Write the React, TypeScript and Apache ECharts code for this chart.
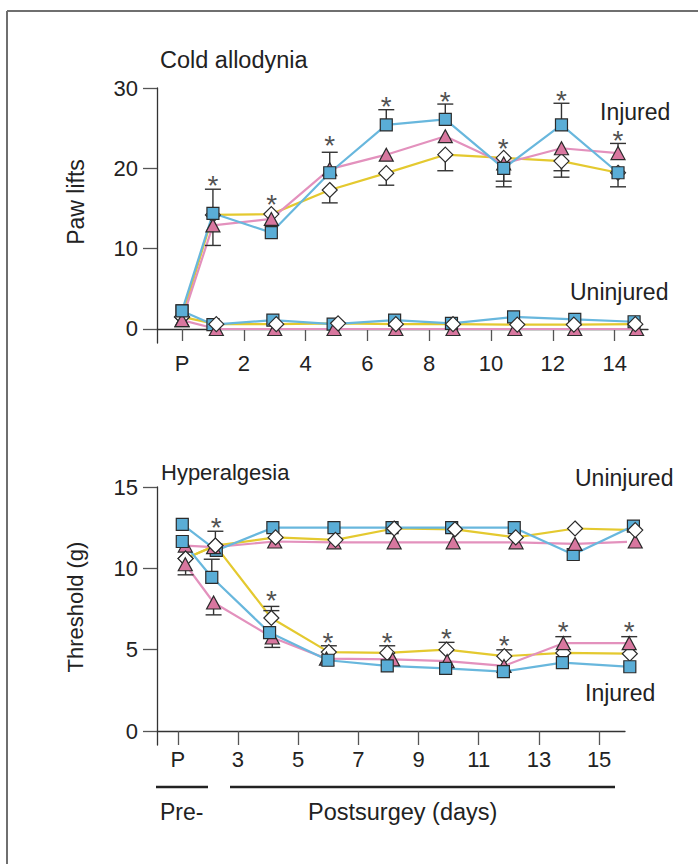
import React, { useEffect, useRef } from "react";
import * as echarts from "echarts";

// ---------- Cold allodynia (paw lifts); P = presurgery baseline at day 0 ----------
const coldTickDays = [0, 2, 4, 6, 8, 10, 12, 14];
const coldTickValues = [0, 10, 20, 30];

const coldInjuredDays = [0, 1.0, 2.89, 4.78, 6.61, 8.52, 10.41, 12.28, 14.11];
const coldInjuredSquare = [2.25, 14.4, 12.0, 19.45, 25.4, 26.1, 20.0, 25.4, 19.45];
const coldInjuredTriangle = [1.1, 12.9, 13.7, 19.9, 21.7, 24.0, 20.6, 22.5, 21.9];
const coldInjuredDiamond = [1.5, 14.2, 14.3, 17.3, 19.4, 21.7, 21.3, 20.9, 19.45];

const coldUninjuredSquareDays = [0, 1.0, 2.94, 4.89, 6.88, 8.72, 10.73, 12.71, 14.63];
const coldUninjuredSquare = [2.25, 0.55, 1.1, 0.6, 1.1, 0.7, 1.5, 1.2, 0.9];
const coldUninjuredTriangleDays = [0, 1.11, 3.0, 4.92, 6.92, 8.77, 10.77, 12.71, 14.71];
const coldUninjuredTriangle = [1.1, 0, 0, 0, 0, 0, 0, 0, 0];
const coldUninjuredDiamondDays = [0, 1.11, 3.05, 5.05, 6.92, 8.77, 10.85, 12.68, 14.67];
const coldUninjuredDiamond = [1.5, 0.6, 0.6, 0.7, 0.6, 0.6, 0.55, 0.55, 0.6];

// SEM whiskers: [day, from, to]; a cap is drawn at "to"
const coldErrors = [
  [1.0, 14.4, 17.4], [1.0, 12.9, 10.4],
  [4.78, 19.9, 22.0], [4.78, 17.3, 15.7],
  [6.61, 25.4, 27.3], [6.61, 19.4, 17.9],
  [8.52, 26.1, 28.0], [8.52, 21.7, 19.7],
  [10.41, 20.0, 18.4], [10.41, 20.0, 17.7],
  [12.28, 25.4, 28.1], [12.28, 20.9, 19.7], [12.28, 20.9, 18.9],
  [14.11, 21.9, 23.1], [14.11, 19.45, 17.7],
];
const coldStarDays = [1.0, 2.9, 4.78, 6.61, 8.52, 10.39, 12.28, 14.11];
const coldStars = [18.4, 16.05, 23.4, 28.2, 28.85, 23.0, 28.9, 24.0];

// ---------- Hyperalgesia (threshold, g); P = presurgery baseline at day 1 ----------
const hyperTickDays = [1, 3, 5, 7, 9, 11, 13, 15];
const hyperTickValues = [0, 5, 10, 15];

const hyperUninjuredSquareDays = [1.15, 2.28, 4.16, 6.19, 8.12, 10.1, 12.18, 14.14, 16.14];
const hyperUninjuredSquare = [12.7, 11.1, 12.5, 12.5, 12.5, 12.5, 12.5, 10.85, 12.6];
const hyperUninjuredTriangleDays = [1.25, 2.19, 4.22, 6.19, 8.19, 10.15, 12.24, 14.2, 16.2];
const hyperUninjuredTriangle = [11.4, 11.3, 11.65, 11.6, 11.6, 11.6, 11.6, 11.5, 11.65];
const hyperUninjuredDiamondDays = [1.26, 2.25, 4.25, 6.24, 8.19, 10.21, 12.23, 14.2, 16.2];
const hyperUninjuredDiamond = [10.6, 11.4, 11.9, 11.75, 12.45, 12.4, 11.9, 12.45, 12.35];

const hyperInjuredSquareDays = [1.15, 2.13, 4.05, 5.99, 7.96, 9.9, 11.82, 13.78, 16.02];
const hyperInjuredSquare = [11.65, 9.45, 6.05, 4.35, 4.0, 3.85, 3.65, 4.2, 3.95];
const hyperInjuredTriangleDays = [1.25, 2.19, 4.14, 5.94, 8.14, 9.95, 11.84, 13.81, 16.0];
const hyperInjuredTriangle = [10.25, 7.9, 5.75, 4.45, 4.4, 4.3, 4.0, 5.4, 5.4];
const hyperInjuredDiamondDays = [1.26, 2.25, 4.11, 6.02, 7.96, 9.93, 11.85, 13.81, 16.02];
const hyperInjuredDiamond = [10.6, 11.4, 6.95, 4.85, 4.8, 5.0, 4.6, 4.8, 4.75];

const hyperErrors = [
  [1.26, 10.6, 9.6],
  [2.25, 11.4, 12.28],
  [2.13, 9.45, 10.56],
  [2.19, 7.9, 7.14],
  [4.11, 6.95, 7.66], [4.11, 6.95, 7.4],
  [4.14, 5.75, 5.14],
  [6.02, 4.85, 5.24],
  [7.96, 4.8, 5.24],
  [9.93, 5.0, 5.45],
  [11.85, 4.6, 4.99],
  [13.81, 5.4, 5.8],
  [16.0, 5.4, 5.8],
];
const hyperStarDays = [2.28, 4.11, 5.99, 7.96, 9.93, 11.85, 13.81, 16.0];
const hyperStars = [12.75, 8.24, 5.7, 5.7, 5.96, 5.51, 6.34, 6.34];

// ---------- styling ----------
const FONT = '"Liberation Sans", Arial, Helvetica, sans-serif';
const INK = "#222222";
const BLUE_LINE = "#68b7dd";
const PINK_LINE = "#e391bd";
const YELLOW_LINE = "#e4c92f";
const BLUE_FILL = "#5aadd6";
const PINK_FILL = "#d8779f";
const EDGE = "#2b2b2b";

const pairs = (xs: number[], ys: number[]) => xs.map((x, i) => [x, ys[i]]);

function lineSeries(axis: number, xs: number[], ys: number[], color: string) {
  return {
    type: "line",
    xAxisIndex: axis,
    yAxisIndex: axis,
    data: pairs(xs, ys),
    symbol: "none",
    clip: false,
    z: 2,
    lineStyle: { color, width: 2.2 },
    silent: true,
  };
}

function markerSeries(
  axis: number,
  xs: number[],
  ys: number[],
  symbol: string,
  size: number | number[],
  fill: string,
  z: number
) {
  return {
    type: "scatter",
    xAxisIndex: axis,
    yAxisIndex: axis,
    data: pairs(xs, ys),
    symbol,
    symbolSize: size,
    clip: false,
    z,
    itemStyle: { color: fill, borderColor: EDGE, borderWidth: 1.2, opacity: 1 },
    silent: true,
  };
}

function whiskerSeries(axis: number, data: number[][]) {
  return {
    type: "custom",
    xAxisIndex: axis,
    yAxisIndex: axis,
    data,
    encode: { x: 0, y: [1, 2] },
    clip: false,
    z: 3,
    silent: true,
    renderItem: (_params: any, api: any) => {
      const x = api.value(0);
      const p0 = api.coord([x, api.value(1)]);
      const p1 = api.coord([x, api.value(2)]);
      const style = { stroke: "#333333", lineWidth: 1.4 };
      return {
        type: "group",
        children: [
          { type: "line", shape: { x1: p0[0], y1: p0[1], x2: p1[0], y2: p1[1] }, style },
          { type: "line", shape: { x1: p1[0] - 8, y1: p1[1], x2: p1[0] + 8, y2: p1[1] }, style },
        ],
      };
    },
  };
}

// significance asterisks, centred on the given values
function starSeries(axis: number, xs: number[], ys: number[]) {
  return {
    type: "scatter",
    xAxisIndex: axis,
    yAxisIndex: axis,
    data: pairs(xs, ys),
    symbol: "circle",
    symbolSize: 2,
    clip: false,
    z: 6,
    itemStyle: { color: "rgba(255,255,255,0)", borderWidth: 0 },
    silent: true,
    label: {
      show: true,
      position: "inside",
      formatter: "*",
      fontSize: 28,
      fontFamily: FONT,
      color: INK,
      offset: [0, 4],
    },
  };
}

function xAxisOf(grid: number, min: number, max: number, ticks: number[], pValue: number, margin: number, tickLen: number) {
  return {
    type: "value",
    gridIndex: grid,
    min,
    max,
    axisLine: { show: true, onZero: true, lineStyle: { color: "#333333", width: 1.3 } },
    axisTick: { show: true, customValues: ticks, length: tickLen, lineStyle: { color: "#555555", width: 1.3 } },
    axisLabel: {
      show: true,
      customValues: ticks,
      margin,
      fontSize: 22,
      fontFamily: FONT,
      color: INK,
      formatter: (v: number) => (Math.abs(v - pValue) < 1e-6 ? "P" : String(v)),
    },
    splitLine: { show: false },
  };
}

function yAxisOf(grid: number, min: number, max: number, ticks: number[]) {
  return {
    type: "value",
    gridIndex: grid,
    min,
    max,
    axisLine: { show: true, onZero: false, lineStyle: { color: "#333333", width: 1.3 } },
    axisTick: { show: true, customValues: ticks, length: 14, lineStyle: { color: "#555555", width: 1.3 } },
    axisLabel: {
      show: true,
      customValues: ticks,
      margin: 19,
      fontSize: 22,
      fontFamily: FONT,
      color: INK,
    },
    splitLine: { show: false },
  };
}

function label(text: string, x: number, y: number, size = 22, align = "left", rotation = 0) {
  return {
    type: "text",
    x,
    y,
    rotation,
    silent: true,
    style: {
      text,
      fontSize: size,
      fontFamily: FONT,
      fill: INK,
      textAlign: align,
      textVerticalAlign: "middle",
    },
  };
}

function hline(x1: number, x2: number, y: number, width: number, color: string) {
  return {
    type: "line",
    silent: true,
    shape: { x1, y1: y, x2, y2: y },
    style: { stroke: color, lineWidth: width },
  };
}

export default function App() {
  const ref = useRef<HTMLDivElement>(null);

  useEffect(() => {
    if (!ref.current) return;
    document.body.style.margin = "0";
    const chart = echarts.init(ref.current, null, { renderer: "svg" });

    const option: any = {
      animation: false,
      backgroundColor: "#ffffff",
      grid: [
        { left: 157, top: 88, width: 491, height: 255, outerBoundsMode: "none" },
        { left: 157, top: 487, width: 468, height: 258, outerBoundsMode: "none" },
      ],
      xAxis: [
        xAxisOf(0, -0.81, 15.08, coldTickDays, 0, 9, 12),
        xAxisOf(1, 0.31, 15.86, hyperTickDays, 1, 3, 14),
      ],
      yAxis: [
        yAxisOf(0, -1.743, 30, coldTickValues),
        yAxisOf(1, -0.86, 15, hyperTickValues),
      ],
      series: [
        // cold allodynia
        lineSeries(0, coldUninjuredDiamondDays, coldUninjuredDiamond, YELLOW_LINE),
        lineSeries(0, coldUninjuredTriangleDays, coldUninjuredTriangle, PINK_LINE),
        lineSeries(0, coldUninjuredSquareDays, coldUninjuredSquare, BLUE_LINE),
        lineSeries(0, coldInjuredDays, coldInjuredDiamond, YELLOW_LINE),
        lineSeries(0, coldInjuredDays, coldInjuredTriangle, PINK_LINE),
        lineSeries(0, coldInjuredDays, coldInjuredSquare, BLUE_LINE),
        whiskerSeries(0, coldErrors),
        markerSeries(0, coldUninjuredSquareDays, coldUninjuredSquare, "rect", 12, BLUE_FILL, 4),
        markerSeries(0, coldUninjuredTriangleDays, coldUninjuredTriangle, "triangle", [14, 13], PINK_FILL, 4),
        markerSeries(0, coldUninjuredDiamondDays, coldUninjuredDiamond, "diamond", 15, "#ffffff", 4),
        markerSeries(0, coldInjuredDays, coldInjuredDiamond, "diamond", 15, "#ffffff", 5),
        markerSeries(0, coldInjuredDays, coldInjuredTriangle, "triangle", [14, 13], PINK_FILL, 5),
        markerSeries(0, coldInjuredDays, coldInjuredSquare, "rect", 12, BLUE_FILL, 5),
        starSeries(0, coldStarDays, coldStars),

        // hyperalgesia
        lineSeries(1, hyperUninjuredDiamondDays, hyperUninjuredDiamond, YELLOW_LINE),
        lineSeries(1, hyperUninjuredTriangleDays, hyperUninjuredTriangle, PINK_LINE),
        lineSeries(1, hyperUninjuredSquareDays, hyperUninjuredSquare, BLUE_LINE),
        lineSeries(1, hyperInjuredDiamondDays, hyperInjuredDiamond, YELLOW_LINE),
        lineSeries(1, hyperInjuredTriangleDays, hyperInjuredTriangle, PINK_LINE),
        lineSeries(1, hyperInjuredSquareDays, hyperInjuredSquare, BLUE_LINE),
        whiskerSeries(1, hyperErrors),
        markerSeries(1, hyperUninjuredSquareDays, hyperUninjuredSquare, "rect", 12, BLUE_FILL, 4),
        markerSeries(1, hyperUninjuredTriangleDays, hyperUninjuredTriangle, "triangle", [14, 13], PINK_FILL, 4),
        markerSeries(1, hyperUninjuredDiamondDays, hyperUninjuredDiamond, "diamond", 15, "#ffffff", 4),
        markerSeries(1, hyperInjuredDiamondDays, hyperInjuredDiamond, "diamond", 15, "#ffffff", 5),
        markerSeries(1, hyperInjuredTriangleDays, hyperInjuredTriangle, "triangle", [14, 13], PINK_FILL, 5),
        markerSeries(1, hyperInjuredSquareDays, hyperInjuredSquare, "rect", 12, BLUE_FILL, 5),
        starSeries(1, hyperStarDays, hyperStars),
      ],
      graphic: [
        // panel frame (top and left edges)
        hline(7, 698, 11, 2, "#6f6f6f"),
        { type: "line", silent: true, shape: { x1: 7, y1: 11, x2: 7, y2: 864 }, style: { stroke: "#6f6f6f", lineWidth: 2 } },

        label("Cold allodynia", 160, 60, 23.5),
        label("Injured", 600, 112, 23),
        label("Uninjured", 570, 292, 23),
        label("Paw lifts", 76, 202, 23, "center", Math.PI / 2),

        label("Hyperalgesia", 161, 472, 22),
        label("Uninjured", 575, 478, 23),
        label("Injured", 585, 693, 23),
        label("Threshold (g)", 75, 607, 22, "center", Math.PI / 2),

        // time-period brackets under the lower axis
        hline(156, 208, 787, 2.6, INK),
        hline(230, 615, 787, 2.6, INK),
        label("Pre-", 160, 812, 23),
        label("Postsurgey (days)", 308, 812, 23.5),
      ],
    };

    chart.setOption(option);
    return () => chart.dispose();
  }, []);

  return (
    <div
      ref={ref}
      style={{ position: "fixed", left: 0, top: 0, width: 698, height: 864, background: "#ffffff" }}
    />
  );
}
